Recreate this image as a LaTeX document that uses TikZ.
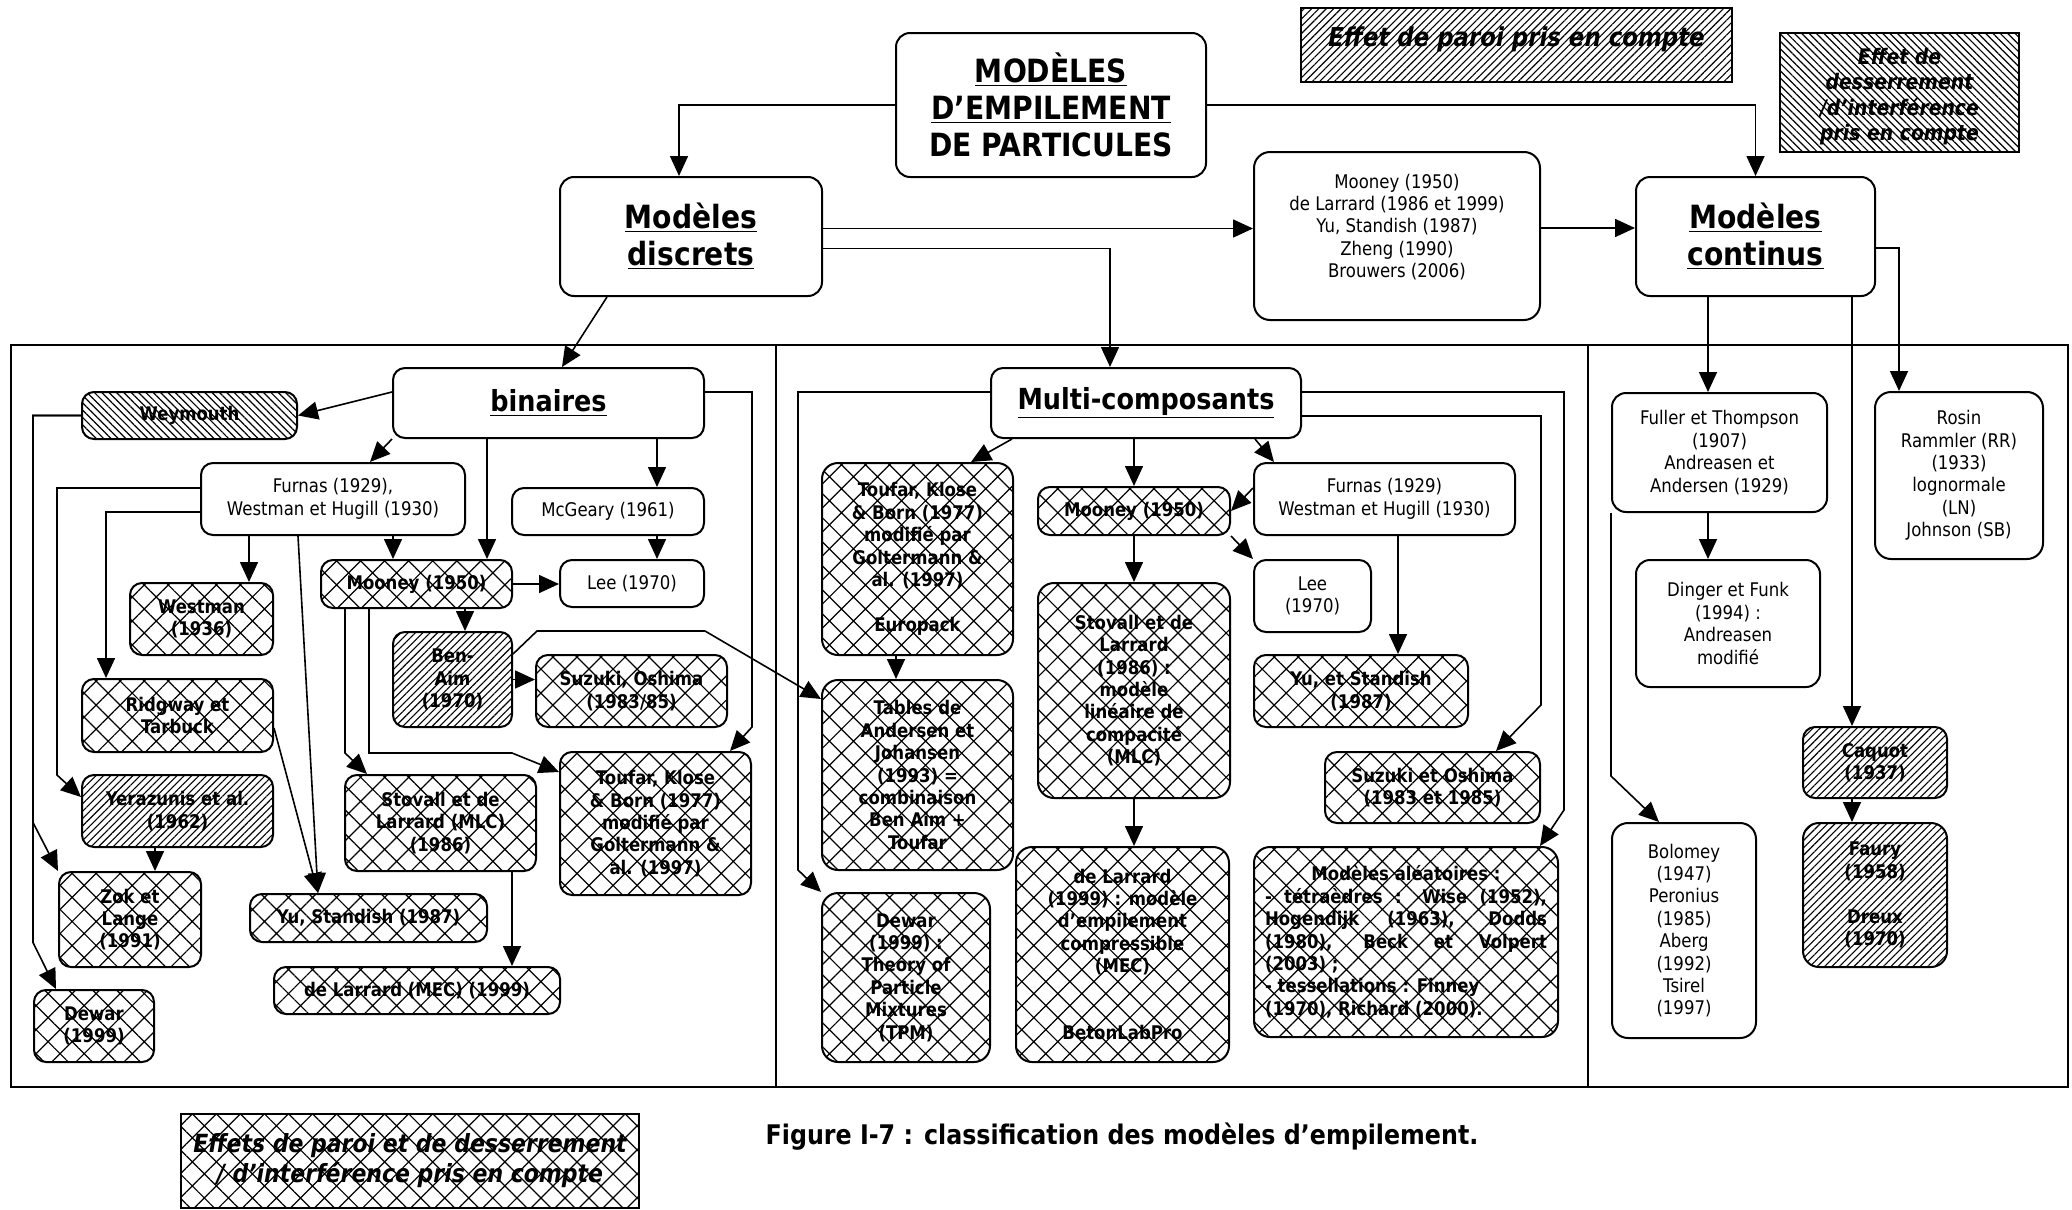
\documentclass[tikz,border=0pt]{standalone}
\usepackage{fontspec}
\setmainfont{DejaVu Sans}[FakeStretch=0.88]
\usepackage{tikz}
\usetikzlibrary{arrows.meta, positioning, calc, patterns.meta}

\begin{document}
\begin{tikzpicture}[
    x=0.5pt, y=-0.5pt,
    font=\fontsize{9.4}{11.2}\selectfont,
    box/.style={rectangle, rounded corners=6pt, draw, line width=1pt, fill=white, align=center, inner sep=1pt},
    crossbox/.style={box, font=\fontsize{9.4}{11.2}\selectfont\bfseries, preaction={fill=white},
        pattern={Hatch[angle=45, distance=8.5pt, line width=0.6pt]}},
    paroibox/.style={box, font=\fontsize{9.4}{11.2}\selectfont\bfseries, preaction={fill=white},
        pattern={Lines[angle=45, distance=2.6pt, line width=0.55pt]}},
    dessbox/.style={box, font=\fontsize{9.4}{11.2}\selectfont\bfseries, preaction={fill=white},
        pattern={Lines[angle=-45, distance=2.6pt, line width=0.6pt]}},
    headbox/.style={box, rounded corners=7pt, font=\fontsize{16}{18.5}\selectfont\bfseries},
    subhead/.style={box, font=\fontsize{14.5}{17}\selectfont\bfseries},
    legend/.style={rectangle, draw, line width=1pt, align=center, inner sep=1pt, preaction={fill=white}},
    arrow/.style={-{Triangle[length=10pt, width=9pt]}, line width=0.8pt},
    frame/.style={draw, line width=1pt}
]
\useasboundingbox (0,0) rectangle (2072,1210);

% Panels
\draw[frame] (11,345) rectangle (2068,1087);
\draw[frame] (776,345) -- (776,1087);
\draw[frame] (1588,345) -- (1588,1087);

% Top level
\node[headbox, minimum width=155pt, minimum height=72pt] (title) at (1051,105)
    {\underline{MODÈLES}\\\underline{D’EMPILEMENT}\\DE PARTICULES};
\node[headbox, minimum width=131pt, minimum height=59.5pt] (discrets) at (691,236.5)
    {\underline{Modèles}\\\underline{discrets}};
\node[box, rounded corners=8pt, minimum width=143pt, minimum height=84pt,
      label={[align=center, yshift=4.5pt]center:Mooney (1950)\\de Larrard (1986 et 1999)\\Yu, Standish (1987)\\Zheng (1990)\\Brouwers (2006)}] (synth) at (1397,236) {};
\node[headbox, minimum width=119.5pt, minimum height=59.5pt] (continus) at (1755.5,236.5)
    {\underline{Modèles}\\\underline{continus}};

% Legends
\node[legend, pattern={Lines[angle=45, distance=2.6pt, line width=0.55pt]},
      minimum width=215.5pt, minimum height=37pt,
      label={[font=\fontsize{13}{15}\selectfont\bfseries\itshape, yshift=3pt]center:Effet de paroi pris en compte}] (paroileg) at (1516.5,45) {};
\node[legend, pattern={Lines[angle=-45, distance=2.6pt, line width=0.6pt]},
      minimum width=119.5pt, minimum height=59.5pt,
      label={[font=\fontsize{10.7}{12.7}\selectfont\bfseries\itshape, align=center, yshift=-2pt]center:Effet de\\desserrement\\/d’interférence\\pris en compte}] (dessleg) at (1899.5,92.5) {};
\node[legend, pattern={Hatch[angle=45, distance=8.5pt, line width=0.6pt]},
      font=\fontsize{12.5}{15}\selectfont\bfseries\itshape,
      minimum width=229pt, minimum height=47pt] (bothleg) at (410,1161)
    {Effets de paroi et de desserrement\\/ d’interférence pris en compte};
\node[font=\fontsize{13.5}{15}\selectfont\bfseries] (caption) at (1122,1137)
    {Figure I-7 : classification des modèles d’empilement.};

% Binaires
\node[subhead, minimum width=155.5pt, minimum height=35pt] (binaires) at (548.5,403) {\underline{binaires}};
\node[dessbox, minimum width=107.5pt, minimum height=23.5pt] (weymouth) at (189.5,415.5) {Weymouth};
\node[box, minimum width=132pt, minimum height=36pt] (furnasB) at (333,499) {Furnas (1929),\\Westman et Hugill (1930)};
\node[box, minimum width=96pt, minimum height=23.5pt] (mcgeary) at (608,511.5) {McGeary (1961)};
\node[box, minimum width=72pt, minimum height=23.5pt] (leeB) at (632,583.5) {Lee (1970)};
\node[crossbox, minimum width=95.5pt, minimum height=24pt] (mooneyB) at (416.5,584) {Mooney (1950)};
\node[crossbox, minimum width=71.5pt, minimum height=36pt] (westman) at (201.5,619) {Westman\\(1936)};
\node[paroibox, minimum width=59.5pt, minimum height=47.5pt] (benaim) at (452.5,679.5) {Ben-\\Aim\\(1970)};
\node[crossbox, minimum width=95.5pt, minimum height=36pt] (suzukiB) at (631.5,691) {Suzuki, Oshima\\(1983/85)};
\node[crossbox, minimum width=95.5pt, minimum height=36.5pt] (ridgway) at (177.5,715.5) {Ridgway et\\Tarbuck};
\node[paroibox, minimum width=95.5pt, minimum height=36pt] (yerazunis) at (177.5,811) {Yerazunis et al.\\(1962)};
\node[crossbox, minimum width=95.5pt, minimum height=48pt] (stovallB) at (440.5,823) {Stovall et de\\Larrard (MLC)\\(1986)};
\node[crossbox, minimum width=95.5pt, minimum height=71.5pt] (toufarB) at (655.5,823.5)
    {Toufar, Klose\\\& Born (1977)\\modifié par\\Goltermann \&\\al. (1997)};
\node[crossbox, minimum width=71pt, minimum height=47.5pt] (zok) at (130,919.5) {Zok et\\Lange\\(1991)};
\node[crossbox, minimum width=118.5pt, minimum height=24pt] (yuB) at (368.5,918) {Yu, Standish (1987)};
\node[crossbox, minimum width=143pt, minimum height=23.5pt] (delarrardMEC) at (417,990.5) {de Larrard (MEC) (1999)};
\node[crossbox, minimum width=60pt, minimum height=36pt] (dewarB) at (94,1026) {Dewar\\(1999)};

% Multi-composants
\node[subhead, minimum width=155pt, minimum height=35pt] (multi) at (1146,403) {\underline{Multi-composants}};
\node[crossbox, rounded corners=8pt, minimum width=95.5pt, minimum height=96pt] (toufarM) at (917.5,559)
    {Toufar, Klose\\\& Born (1977)\\modifié par\\Goltermann \&\\al. (1997)\\[11.2pt]Europack};
\node[crossbox, minimum width=96pt, minimum height=24pt] (mooneyM) at (1134,511) {Mooney (1950)};
\node[box, minimum width=130.5pt, minimum height=36pt] (furnasM) at (1384.5,499) {Furnas (1929)\\Westman et Hugill (1930)};
\node[box, minimum width=58.5pt, minimum height=36pt] (leeM) at (1312.5,596) {Lee\\(1970)};
\node[crossbox, rounded corners=8pt, minimum width=96pt, minimum height=107.5pt] (stovallM) at (1134,690.5)
    {Stovall et de\\Larrard\\(1986) :\\modèle\\linéaire de\\compacité\\(MLC)};
\node[crossbox, minimum width=107pt, minimum height=36pt] (yuM) at (1361,691) {Yu, et Standish\\(1987)};
\node[crossbox, rounded corners=8pt, minimum width=95.5pt, minimum height=95pt] (tables) at (917.5,775)
    {Tables de\\Andersen et\\Johansen\\(1993) =\\combinaison\\Ben Aim +\\Toufar};
\node[crossbox, minimum width=107.5pt, minimum height=35.5pt] (suzukiM) at (1432.5,787.5) {Suzuki et Oshima\\(1983 et 1985)};
\node[crossbox, rounded corners=8pt, minimum width=84pt, minimum height=84.5pt] (dewarM) at (906,977.5)
    {Dewar\\(1999) :\\Theory of\\Particle\\Mixtures\\(TPM)};
\node[crossbox, rounded corners=8pt, minimum width=106.5pt, minimum height=107.5pt] (delarrardM) at (1122.5,954.5)
    {de Larrard\\(1999) : modèle\\d’empilement\\compressible\\(MEC)\\[22.4pt]BetonLabPro};
\node[crossbox, rounded corners=8pt, minimum width=152pt, minimum height=95pt, align=left] (aleatoires) at (1406,942)
    {\makebox[141pt]{Modèles aléatoires :}\\
     \makebox[141pt][s]{- tétraèdres : Wise (1952),}\\
     \makebox[141pt][s]{Hogendijk (1963), Dodds}\\
     \makebox[141pt][s]{(1980), Beck et Volpert}\\
     (2003) ;\\
     - tessellations : Finney\\
     (1970), Richard (2000).};

% Continus
\node[box, rounded corners=7pt, minimum width=107.5pt, minimum height=59.5pt] (fuller) at (1719.5,452.5)
    {Fuller et Thompson\\(1907)\\Andreasen et\\Andersen (1929)};
\node[box, rounded corners=8pt, minimum width=84pt, minimum height=83.5pt] (rosin) at (1959,475.5)
    {Rosin\\Rammler (RR)\\(1933)\\lognormale\\(LN)\\Johnson (SB)};
\node[box, rounded corners=7pt, minimum width=92pt, minimum height=63.5pt] (dinger) at (1728,623.5)
    {Dinger et Funk\\(1994) :\\Andreasen\\modifié};
\node[paroibox, minimum width=72pt, minimum height=35.5pt] (caquot) at (1875,762.5) {Caquot\\(1937)};
\node[paroibox, rounded corners=8pt, minimum width=72pt, minimum height=72pt] (faury) at (1875,895)
    {Faury\\(1958)\\[11.2pt]Dreux\\(1970)};
\node[box, rounded corners=8pt, minimum width=72pt, minimum height=107.5pt] (bolomey) at (1684,930.5)
    {Bolomey\\(1947)\\Peronius\\(1985)\\Aberg\\(1992)\\Tsirel\\(1997)};

% Top level arrows
\draw[arrow] (title.west) -| ([xshift=-6pt]discrets.north);
\draw[arrow] (title.east) -| (continus.north);
\draw[arrow] ([yshift=4pt]discrets.east) -- ([yshift=4pt]discrets.east -| synth.west);
\draw[arrow] ([yshift=-6pt]discrets.east) -| ([xshift=-18pt]multi.north);
\draw[arrow] ([yshift=4pt]synth.east) -- ([yshift=4pt]synth.east -| continus.west);
\draw[arrow] ([xshift=-42pt]discrets.south) -- ([xshift=6.75pt]binaires.north);

% Continus arrows
\draw[arrow] ([xshift=-5.75pt]fuller.north |- continus.south) -- ([xshift=-5.75pt]fuller.north);
\draw[arrow] ([xshift=-11.5pt]caquot.north |- continus.south) -- ([xshift=-11.5pt]caquot.north);
\draw[arrow] ([yshift=-5.75pt]continus.east) -| ([xshift=-30pt]rosin.north);
\draw[arrow] ([xshift=-5.75pt]fuller.south) -- ([xshift=-5.75pt]fuller.south |- dinger.north);
\draw[arrow] ([xshift=-11.5pt]caquot.south) -- ([xshift=-11.5pt]faury.north);
\draw[arrow] (fuller.south west) -- ++(0,263) -- ([xshift=24pt]bolomey.north west);

% Binaires arrows
\draw[arrow] ([yshift=5.5pt]binaires.west) -- (weymouth.east);
\draw[arrow] (binaires.south west) -- ([xshift=18.5pt]furnasB.north);
\draw[arrow] ([xshift=35.25pt]mooneyB.north |- binaires.south) -- ([xshift=35.25pt]mooneyB.north);
\draw[arrow] ([xshift=24.5pt]mcgeary.north |- binaires.south) -- ([xshift=24.5pt]mcgeary.north);
\draw[arrow] ([yshift=5.5pt]binaires.east) -- ++(47,0) -- ++(0,335) -- ([xshift=37.25pt]toufarB.north);
\draw[arrow] (weymouth.west) -| ++(-48,407) -- (zok.north west);
\draw[arrow] (weymouth.west) -| ++(-48,527) -- ([xshift=11.5pt]dewarB.north west);
\draw[arrow] ([yshift=5.5pt]furnasB.west) -| ++(-143,287) -- ([yshift=7pt]yerazunis.west);
\draw[arrow] ([yshift=-6.5pt]furnasB.west) -| ([xshift=-35.75pt]ridgway.north);
\draw[arrow] ([xshift=23.75pt]westman.north |- furnasB.south) -- ([xshift=23.75pt]westman.north);
\draw[arrow] ([xshift=-11.75pt]mooneyB.north |- furnasB.south) -- ([xshift=-11.75pt]mooneyB.north);
\draw[arrow] ([xshift=-17.5pt]furnasB.south) -- ([xshift=-25.25pt]yuB.north);
\draw[arrow] ([yshift=-6.25pt]ridgway.east) -- ([xshift=-25.25pt]yuB.north);
\draw[arrow] ([xshift=12.5pt]zok.north |- yerazunis.south) -- ([xshift=12.5pt]zok.north);
\draw[arrow] ([xshift=24.5pt]mcgeary.south) -- ([xshift=12.5pt]leeB.north);
\draw[arrow] (mooneyB.east) -- (mooneyB.east -| leeB.west);
\draw[arrow] ([xshift=24.25pt]mooneyB.south) -- ([xshift=24.25pt]mooneyB.south |- benaim.north);
\draw[arrow] ([xshift=-35.75pt]mooneyB.south) -- ++(0,144) -- ([xshift=11.5pt]stovallB.north west);
\draw[arrow] ([xshift=-23.75pt]mooneyB.south) -- ++(0,144) -- ++(143,0) -- ([yshift=-10.5pt]toufarB.north west);
\draw[arrow] (benaim.east) -- (benaim.east -| suzukiB.west);
\draw[arrow] ([yshift=-11.5pt]benaim.north east) -- ++(24,-23) -- ++(168,0) -- ([yshift=-10pt]tables.north west);
\draw[arrow] ([xshift=35.75pt]stovallB.south) -- ([xshift=35.75pt]stovallB.south |- delarrardMEC.north);

% Multi-composants arrows
\draw[arrow] ([yshift=5.5pt]multi.west) -| ++(-192,478) -- (dewarM.north west);
\draw[arrow] ([yshift=5.5pt]multi.east) -| ++(262,418) -- ([xshift=-9.5pt]aleatoires.north east);
\draw[arrow] ([yshift=-6.5pt]multi.east) -| ++(239,289) -- ([xshift=-22.5pt]suzukiM.north east);
\draw[arrow] ([xshift=11pt]multi.south west) -- ([xshift=26.75pt]toufarM.north);
\draw[arrow] (mooneyM.north |- multi.south) -- (mooneyM.north);
\draw[arrow] ([xshift=-23.5pt]multi.south east) -- ([xshift=10.5pt]furnasM.north west);
\draw[arrow] ([yshift=5.5pt]furnasM.west) -- (mooneyM.east);
\draw[arrow] (mooneyM.south east) -- (leeM.north west);
\draw[arrow] (mooneyM.south) -- (stovallM.north);
\draw[arrow] ([xshift=18.5pt]yuM.north |- furnasM.south) -- ([xshift=18.5pt]yuM.north);
\draw[arrow] ([xshift=-10.75pt]toufarM.south) -- ([xshift=-10.75pt]toufarM.south |- tables.north);
\draw[arrow] (stovallM.south) -- (stovallM.south |- delarrardM.north);

\end{tikzpicture}
\end{document}
